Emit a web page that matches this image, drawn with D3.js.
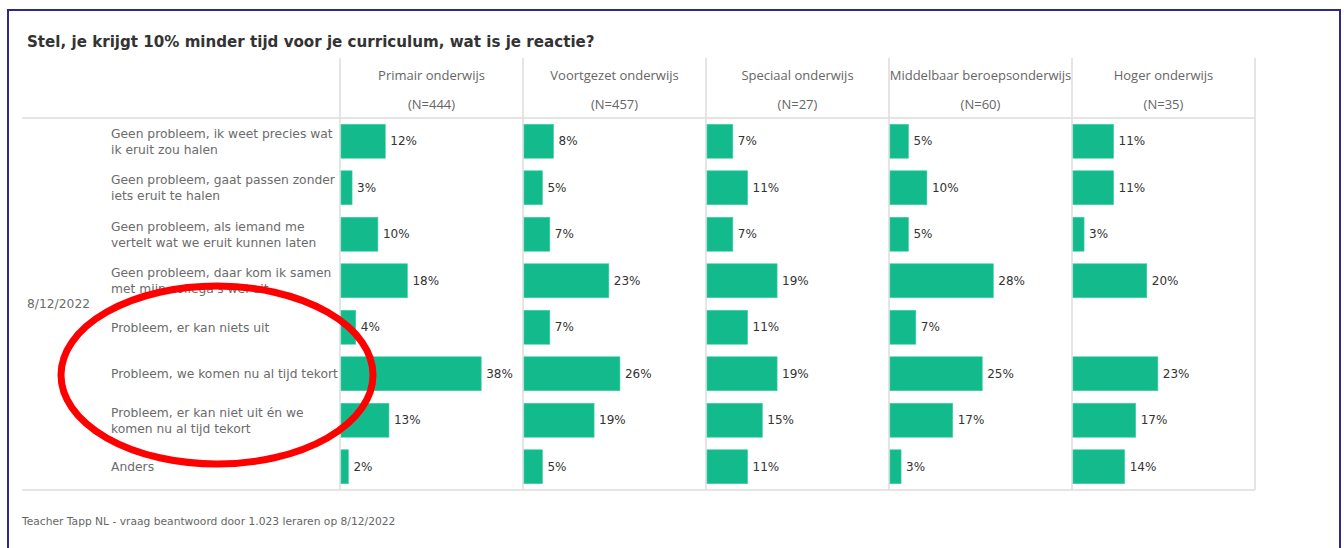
<!DOCTYPE html>
<html>
<head>
<meta charset="utf-8">
<script src="https://cdn.jsdelivr.net/npm/d3@7"></script>
<style>
  html, body { margin: 0; padding: 0; background: #fff; }
  svg { display: block; }
</style>
</head>
<body>
<svg id="chart" width="1344" height="548"></svg>
<script>
const title = "Stel, je krijgt 10% minder tijd voor je curriculum, wat is je reactie?";
const footer = "Teacher Tapp NL - vraag beantwoord door 1.023 leraren op 8/12/2022";
const dateLabel = "8/12/2022";

const categories = [
  "Geen probleem, ik weet precies wat\nik eruit zou halen",
  "Geen probleem, gaat passen zonder\niets eruit te halen",
  "Geen probleem, als iemand me\nvertelt wat we eruit kunnen laten",
  "Geen probleem, daar kom ik samen\nmet mijn collega's wel uit",
  "Probleem, er kan niets uit",
  "Probleem, we komen nu al tijd tekort",
  "Probleem, er kan niet uit én we\nkomen nu al tijd tekort",
  "Anders"
];

const columns = ["Primair onderwijs", "Voortgezet onderwijs", "Speciaal onderwijs", "Middelbaar beroepsonderwijs", "Hoger onderwijs"];
const columnN = ["(N=444)", "(N=457)", "(N=27)", "(N=60)", "(N=35)"];

const primair    = [12, 3, 10, 18, 4, 38, 13, 2];
const voortgezet = [8, 5, 7, 23, 7, 26, 19, 5];
const speciaal   = [7, 11, 7, 19, 11, 19, 15, 11];
const mbo        = [5, 10, 5, 28, 7, 25, 17, 3];
const hoger      = [11, 11, 3, 20, null, 23, 17, 14];
const seriesValues = [primair, voortgezet, speciaal, mbo, hoger];

const svg = d3.select("#chart");

// outer frame
svg.append("rect").attr("x", 8).attr("y", 10).attr("width", 1332).attr("height", 580)
  .attr("fill", "none").attr("stroke", "#2e2a88").attr("stroke-width", 2);

svg.append("text").attr("x", 27).attr("y", 47).text(title)
  .attr("font-family", "DejaVu Sans, sans-serif").attr("font-weight", "bold")
  .attr("font-size", 15.1).attr("fill", "#333");

const colScale = d3.scaleBand().domain(columns).range([340, 1255]);
const yScale = d3.scaleBand().domain(categories).range([118, 490]).paddingInner(0.27).paddingOuter(0.135);
const xVal = d3.scaleLinear().domain([0, 49.6]).range([0, colScale.bandwidth()]);

const grid = svg.append("g").attr("stroke", "#dcdcdc").attr("stroke-width", 1.5);
const seps = columns.map(c => colScale(c)).concat([colScale.range()[1]]);
grid.selectAll("line.v").data(seps).join("line")
  .attr("x1", d => d).attr("x2", d => d).attr("y1", 58).attr("y2", 490);
grid.append("line").attr("x1", 22).attr("x2", 1255).attr("y1", 118).attr("y2", 118);
grid.append("line").attr("x1", 22).attr("x2", 1255).attr("y1", 490).attr("y2", 490);

// headers
const hdr = svg.append("g").attr("font-family", "Open Sans, sans-serif").attr("font-size", 13).attr("fill", "#666").attr("text-anchor", "middle");
hdr.selectAll("text.h").data(columns).join("text")
  .attr("x", d => colScale(d) + colScale.bandwidth() / 2).attr("y", 80).text(d => d);
hdr.selectAll("text.n").data(columns).join("text")
  .attr("x", d => colScale(d) + colScale.bandwidth() / 2).attr("y", 109).text((d, i) => columnN[i]);

// row labels
const rl = svg.append("g").attr("font-family", "DejaVu Sans, sans-serif").attr("font-size", 12.3).attr("fill", "#6b6b6b");
categories.forEach(cat => {
  const lines = cat.split("\n");
  const cy = yScale(cat) + yScale.bandwidth() / 2;
  const lh = 16;
  const t = rl.append("text").attr("x", 111);
  lines.forEach((ln, i) => {
    t.append("tspan").attr("x", 111)
      .attr("y", cy + (i - (lines.length - 1) / 2) * lh)
      .attr("dy", "0.35em").text(ln);
  });
});

svg.append("text").attr("x", 27).attr("y", (118 + 490) / 2).attr("dy", "0.35em")
  .attr("font-family", "DejaVu Sans, sans-serif").attr("font-size", 12.3).attr("fill", "#6b6b6b").text(dateLabel);

// bars
columns.forEach((col, ci) => {
  const g = svg.append("g");
  const data = categories.map((c, i) => ({ c, v: seriesValues[ci][i] })).filter(d => d.v != null);
  const x0 = colScale(col) + 1;
  g.selectAll("rect").data(data).join("rect")
    .attr("x", x0).attr("y", d => yScale(d.c))
    .attr("width", d => xVal(d.v)).attr("height", yScale.bandwidth())
    .attr("fill", "#13bb8c").attr("stroke", "#3fd0a6").attr("stroke-width", 0.6);
  g.selectAll("text").data(data).join("text")
    .attr("x", d => x0 + xVal(d.v) + 5).attr("y", d => yScale(d.c) + yScale.bandwidth() / 2)
    .attr("dy", "0.35em").attr("font-family", "DejaVu Sans, sans-serif").attr("font-size", 12)
    .attr("fill", "#333").text(d => d.v + "%");
});

svg.append("text").attr("x", 22).attr("y", 525).text(footer)
  .attr("font-family", "DejaVu Sans, sans-serif").attr("font-size", 10.7).attr("fill", "#666");

// red annotation ellipse
svg.append("ellipse").attr("cx", 217).attr("cy", 375).attr("rx", 156).attr("ry", 89)
  .attr("fill", "none").attr("stroke", "#ff0000").attr("stroke-width", 7);
</script>
</body>
</html>
